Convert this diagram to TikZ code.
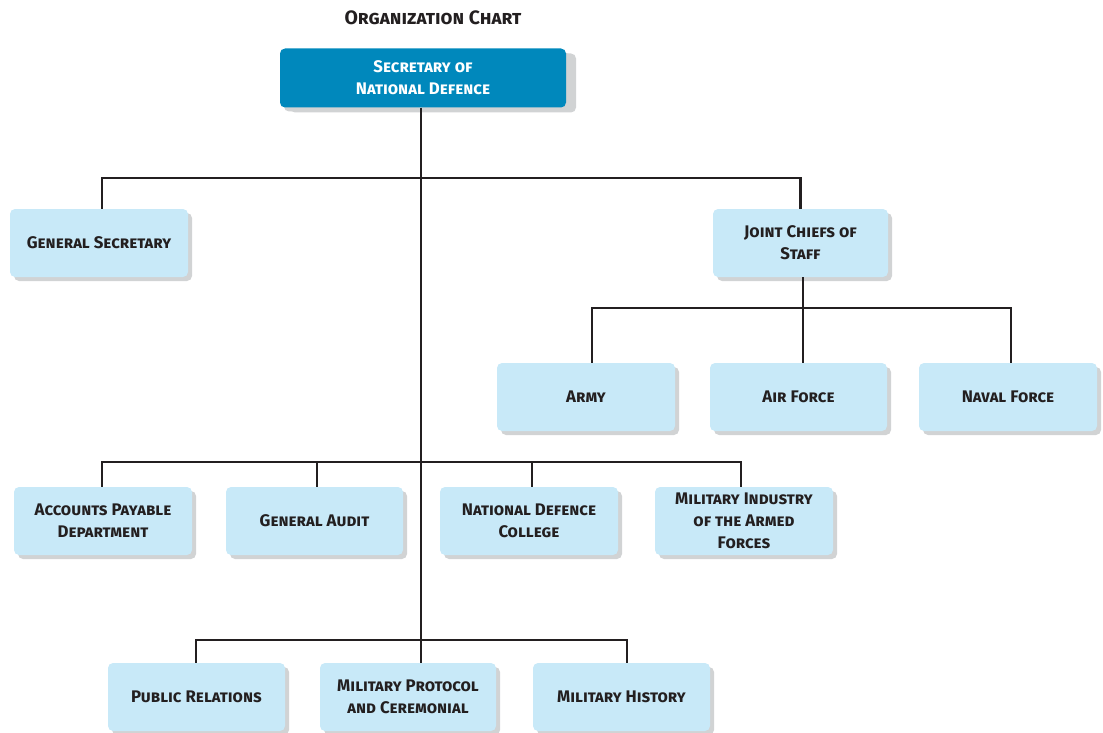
\documentclass[tikz,border=0pt]{standalone}
\usepackage{fontspec}
\setmainfont{Fira Sans}[Letters=SmallCaps]
\usetikzlibrary{shadows}
\definecolor{darkbox}{HTML}{0088BC}
\definecolor{lightbox}{HTML}{C8E9F8}
\definecolor{shadowgray}{HTML}{D1D3D4}
\definecolor{txt}{HTML}{231F20}
\begin{document}
\begin{tikzpicture}[x=1pt,y=-1pt,
  box/.style={rounded corners=5pt, fill=lightbox, text=txt, align=center,
    minimum width=177pt, minimum height=68pt, inner sep=2pt,
    font=\fontsize{16.8}{22}\selectfont\bfseries,
    drop shadow={shadow xshift=4pt, shadow yshift=-4pt, fill=shadowgray, opacity=1}},
  topbox/.style={box, fill=darkbox, text=white, minimum width=286pt, minimum height=59pt,
    drop shadow={shadow xshift=10pt, shadow yshift=-5pt, fill=shadowgray, opacity=1}},
  conn/.style={line width=2.6pt, color=txt}]
\useasboundingbox (0,0) rectangle (1103,733);
\node[text=txt, font=\fontsize{19.4}{22}\selectfont\bfseries] (title) at (433,18) {Organization Chart};
\node[topbox] (top) at (423,78) {Secretary of\\National Defence};
\node[box, minimum width=178pt] (gs) at (99,243) {General Secretary};
\node[box, minimum width=175pt] (jc) at (800.5,243) {Joint Chiefs of\\Staff};
\node[box, minimum width=178pt] (army) at (586,397) {Army};
\node[box] (air) at (798.5,397) {Air Force};
\node[box, minimum width=178pt] (naval) at (1008,397) {Naval Force};
\node[box, minimum width=178pt] (apd) at (103,521) {Accounts Payable\\Department};
\node[box] (ga) at (314.5,521) {General Audit};
\node[box, minimum width=178pt] (ndc) at (529,521) {National Defence\\College};
\node[box, minimum width=178pt] (mil) at (744,521) {Military Industry\\of the Armed\\Forces};
\node[box] (pr) at (196.5,697) {Public Relations};
\node[box, minimum width=176pt] (mp) at (408,697) {Military Protocol\\and Ceremonial};
\node[box] (mh) at (621.5,697) {Military History};
\coordinate (t1) at (421,178);
\coordinate (t2) at (421,462);
\coordinate (t3) at (421,640);
\coordinate (j1) at (803,308);
\begin{scope}[on background layer/.try]
\draw[conn] (top.south -| t1) -- (t1 |- mp.north);
\draw[conn] (gs.north -| 102,0) |- (t1) -| (jc.north);
\draw[conn] (jc.south -| j1) -- (j1 |- air.north);
\draw[conn] (army.north -| 592,0) |- (j1) -| (naval.north -| 1011,0);
\draw[conn] (apd.north -| 102,0) |- (t2) -| (mil.north -| 741,0);
\draw[conn] (ga.north -| 317,0) -- (317,462);
\draw[conn] (ndc.north -| 532,0) -- (532,462);
\draw[conn] (pr.north -| 196,0) |- (t3) -| (mh.north -| 627,0);
\end{scope}
\end{tikzpicture}
\end{document}
